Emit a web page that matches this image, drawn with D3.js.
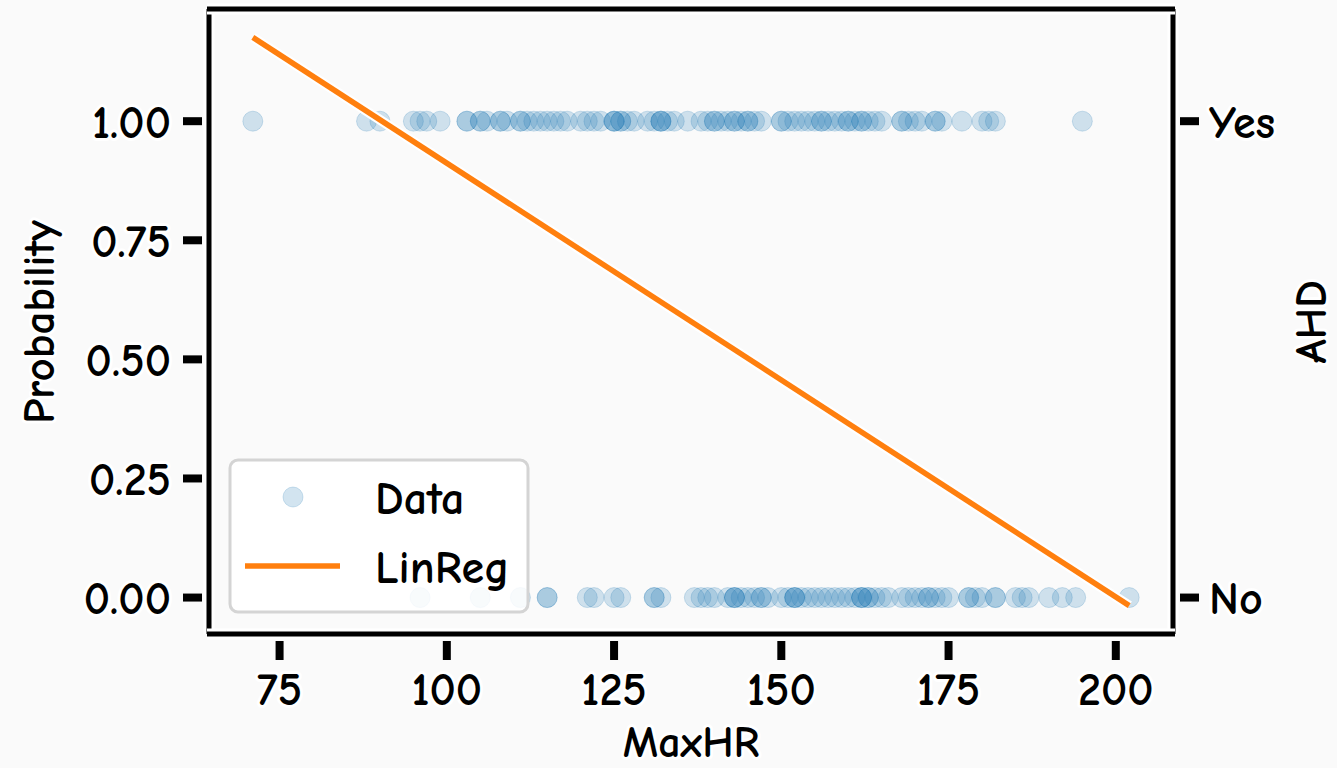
<!DOCTYPE html>
<html>
<head>
<meta charset="utf-8">
<script src="https://cdn.jsdelivr.net/npm/d3@7"></script>
<style>
  html, body { margin: 0; padding: 0; background: #fafafa; }
  svg { display: block; font-family: "Comic Neue", "Comic Sans MS", "DejaVu Sans", sans-serif; font-weight: 700; }
  .halo { paint-order: stroke; stroke: #fff; stroke-width: 6px; stroke-linejoin: round; }
</style>
</head>
<body>
<svg id="chart" width="1337" height="768"></svg>
<script>
// ========== DATA ==========
// MaxHR for patients with AHD = Yes (y = 1)
const maxHrYes = [71, 88, 90, 95, 96, 97, 99, 103, 103, 105, 105, 106, 108, 108, 109, 111, 111, 112,
  113, 114, 115, 116, 117, 118, 120, 121, 122, 123, 125, 125, 125, 126, 126, 127, 128, 130, 131,
  132, 132, 132, 133, 134, 136, 138, 139, 140, 140, 141, 142, 143, 143, 144, 145, 145, 146, 147,
  150, 150, 151, 152, 153, 154, 155, 156, 156, 157, 158, 159, 160, 160, 161, 162, 162, 163, 164,
  165, 168, 168, 169, 170, 171, 173, 173, 174, 177, 180, 181, 182, 195];
// MaxHR for patients with AHD = No (y = 0)
const maxHrNo = [96, 105, 111, 115, 115, 121, 122, 125, 126, 131, 131, 132, 137, 138, 139, 140,
  142, 143, 143, 143, 144, 145, 146, 147, 147, 148, 150, 151, 152, 152, 152, 153, 154, 155, 156,
  157, 158, 159, 160, 161, 162, 162, 162, 163, 163, 164, 165, 166, 168, 169, 170, 171, 172, 172,
  173, 174, 175, 178, 178, 179, 180, 182, 182, 185, 186, 187, 190, 192, 194, 202];
// linear regression fit
const fitX = [71, 202];
const fitY = [1.176, -0.017];

const xTicks = [75, 100, 125, 150, 175, 200];
const yTicks = [0, 0.25, 0.5, 0.75, 1];
const rightTicks = [{ v: 1, label: "Yes" }, { v: 0, label: "No" }];

// ========== SCALES ==========
const svg = d3.select("#chart");
const x = d3.scaleLinear().domain([64.45, 208.55]).range([209, 1173]);
const y = d3.scaleLinear().domain([-0.0765, 1.2355]).range([634, 9]);
const blue = "#1f77b4", orange = "#ff7f0e";

// ========== POINTS ==========
const points = maxHrYes.map(v => ({ x: v, y: 1 })).concat(maxHrNo.map(v => ({ x: v, y: 0 })));
svg.append("g").selectAll("circle").data(points).join("circle")
  .attr("cx", d => x(d.x)).attr("cy", d => y(d.y)).attr("r", 10)
  .attr("fill", blue).attr("fill-opacity", 0.2)
  .attr("stroke", blue).attr("stroke-opacity", 0.2).attr("stroke-width", 1);

// ========== FIT LINE ==========
const line = d3.line().x(d => x(d[0])).y(d => y(d[1]));
const fitPts = fitX.map((v, i) => [v, fitY[i]]);
svg.append("path").datum(fitPts).attr("d", line)
  .attr("fill", "none").attr("stroke", "#fff").attr("stroke-width", 10);
svg.append("path").datum(fitPts).attr("d", line)
  .attr("fill", "none").attr("stroke", orange).attr("stroke-width", 5.5);

// ========== SPINES ==========
const [x0, x1] = x.range();
const [yb, yt] = y.range();
function spine(xa, ya, xb, yb2) {
  svg.append("line").attr("x1", xa).attr("y1", ya).attr("x2", xb).attr("y2", yb2)
    .attr("stroke", "#fff").attr("stroke-width", 11);
  svg.append("line").attr("x1", xa).attr("y1", ya).attr("x2", xb).attr("y2", yb2)
    .attr("stroke", "#000").attr("stroke-width", 5);
}
spine(x0, yb, x0, yt);
spine(x1, yb, x1, yt);
spine(x0 - 2, yb, x1 + 2, yb);
spine(x0 - 2, yt, x1 + 2, yt);

// ========== TICKS ==========
const tickFont = 46;
// left axis
yTicks.forEach(t => {
  svg.append("line").attr("x1", 183).attr("x2", 202).attr("y1", y(t)).attr("y2", y(t))
    .attr("stroke", "#000").attr("stroke-width", 8);
  svg.append("text").attr("class", "halo").attr("x", 171).attr("y", y(t)).attr("dy", "0.36em")
    .attr("text-anchor", "end").attr("font-size", tickFont).text(d3.format(".2f")(t));
});
// bottom axis
xTicks.forEach(t => {
  svg.append("line").attr("x1", x(t)).attr("x2", x(t)).attr("y1", 641).attr("y2", 660)
    .attr("stroke", "#000").attr("stroke-width", 8);
  svg.append("text").attr("class", "halo").attr("x", x(t)).attr("y", 688).attr("dy", "0.36em")
    .attr("text-anchor", "middle").attr("font-size", tickFont).text(t);
});
// right axis
rightTicks.forEach(t => {
  svg.append("line").attr("x1", 1180).attr("x2", 1199).attr("y1", y(t.v)).attr("y2", y(t.v))
    .attr("stroke", "#000").attr("stroke-width", 8);
  svg.append("text").attr("class", "halo").attr("x", 1209).attr("y", y(t.v)).attr("dy", "0.36em")
    .attr("font-size", tickFont).text(t.label);
});

// ========== AXIS LABELS ==========
svg.append("text").attr("class", "halo").attr("transform", "translate(38,322) rotate(-90)")
  .attr("dy", "0.36em").attr("text-anchor", "middle").attr("font-size", 45).text("Probability");
svg.append("text").attr("class", "halo").attr("transform", "translate(1310,322) rotate(-90)")
  .attr("dy", "0.36em").attr("text-anchor", "middle").attr("font-size", 44).text("AHD");
svg.append("text").attr("class", "halo").attr("x", 691).attr("y", 741).attr("dy", "0.36em")
  .attr("text-anchor", "middle").attr("font-size", 44).text("MaxHR");

// ========== LEGEND ==========
const lg = svg.append("g");
lg.append("rect").attr("x", 230).attr("y", 460).attr("width", 298).attr("height", 152).attr("rx", 8)
  .attr("fill", "#fff").attr("fill-opacity", 0.85).attr("stroke", "#d4d4d4").attr("stroke-width", 3);
lg.append("circle").attr("cx", 293).attr("cy", 497).attr("r", 10)
  .attr("fill", blue).attr("fill-opacity", 0.2).attr("stroke", blue).attr("stroke-opacity", 0.2);
lg.append("line").attr("x1", 245).attr("x2", 340).attr("y1", 566).attr("y2", 566)
  .attr("stroke", orange).attr("stroke-width", 5.5);
lg.append("text").attr("x", 375).attr("y", 497).attr("dy", "0.36em").attr("font-size", 46).text("Data");
lg.append("text").attr("x", 375).attr("y", 566).attr("dy", "0.36em").attr("font-size", 46).text("LinReg");
</script>
</body>
</html>
